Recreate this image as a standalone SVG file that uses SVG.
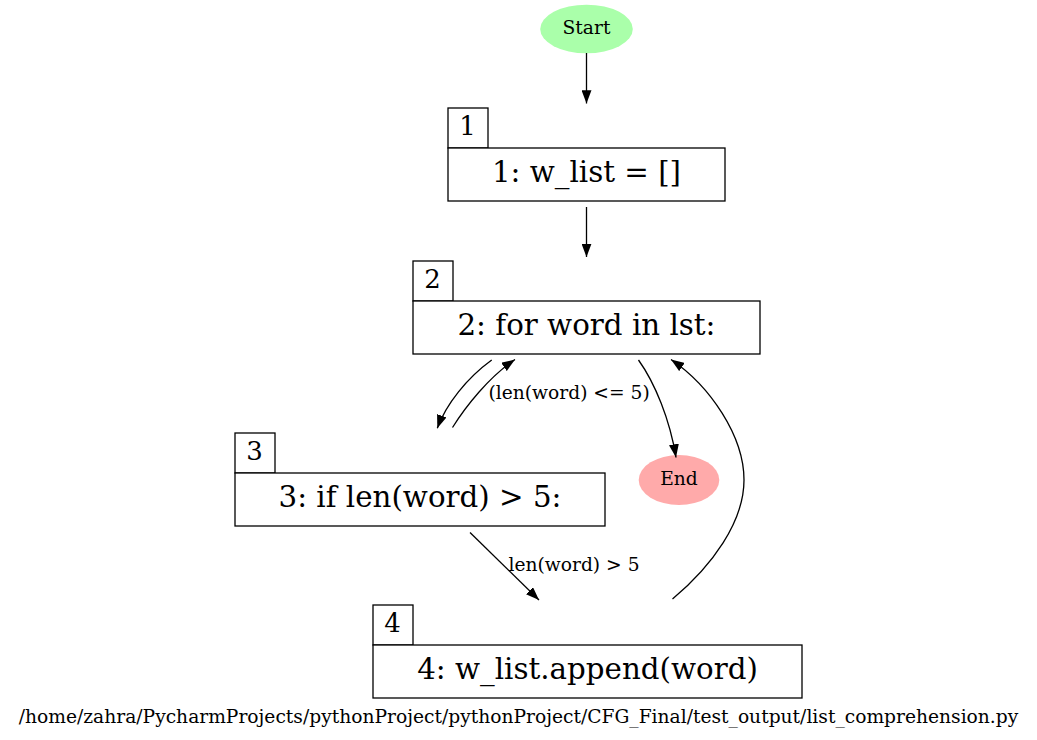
<svg xmlns="http://www.w3.org/2000/svg" width="1037" height="740" viewBox="0 0 1037 740">
<defs>
<marker id="arr" markerUnits="userSpaceOnUse" markerWidth="14" markerHeight="10" refX="13.3" refY="5" orient="auto">
<path d="M0,0 L13.3,5 L0,10 z" fill="#000"/>
</marker>
<style>
.box{fill:#fff;stroke:#000;stroke-width:1.3}
.main{font-family:"DejaVu Serif",serif;font-size:29.3px;text-anchor:middle;fill:#000}
.tab{font-family:"DejaVu Serif",serif;font-size:26px;text-anchor:middle;fill:#000}
.small{font-family:"DejaVu Serif",serif;font-size:18.67px;fill:#000}
.edge{fill:none;stroke:#000;stroke-width:1.3;marker-end:url(#arr)}
</style>
</defs>
<rect width="1037" height="740" fill="#fff"/>
<g id="start">
<ellipse cx="586.5" cy="29" rx="46.3" ry="24.3" fill="#aaffaa"/>
<text class="small" x="586.5" y="34" text-anchor="middle">Start</text>
</g>
<g id="node1">
<rect class="box" x="448" y="108" width="40" height="40"/>
<text class="tab" x="467.5" y="135">1</text>
<rect class="box" x="448" y="148" width="277" height="53"/>
<text class="main" x="586.5" y="182">1: w_list = []</text>
</g>
<g id="node2">
<rect class="box" x="413" y="261" width="40" height="40"/>
<text class="tab" x="432.5" y="288">2</text>
<rect class="box" x="413" y="301" width="347" height="53"/>
<text class="main" x="586.5" y="335">2: for word in lst:</text>
</g>
<g id="node3">
<rect class="box" x="235" y="433" width="40" height="40"/>
<text class="tab" x="254.5" y="460">3</text>
<rect class="box" x="235" y="473" width="370" height="53"/>
<text class="main" x="420" y="507">3: if len(word) &gt; 5:</text>
</g>
<g id="end">
<ellipse cx="679" cy="480" rx="40.3" ry="25" fill="#ffaaaa"/>
<text class="small" x="679" y="485" text-anchor="middle">End</text>
</g>
<g id="node4">
<rect class="box" x="373" y="605" width="40" height="40"/>
<text class="tab" x="392.5" y="632">4</text>
<rect class="box" x="373" y="645" width="429" height="53"/>
<text class="main" x="587.5" y="679">4: w_list.append(word)</text>
</g>
<g id="connectors">
<path class="edge" d="M586.5,53 L586.5,103.5"/>
<path class="edge" d="M586.5,207 L586.5,257"/>
<path class="edge" d="M491.7,360 C467,378 446,404 437.3,428.3"/>
<path class="edge" d="M452.5,427.5 C466,406 489,377 515,359.5"/>
<text class="small" x="488.5" y="399">(len(word) &lt;= 5)</text>
<path class="edge" d="M638.5,360 C655,383 670,420 676,457.5"/>
<path class="edge" d="M470,532.5 L539,600"/>
<text class="small" x="508.5" y="571">len(word) &gt; 5</text>
<path class="edge" d="M672.5,599 C712,566 744,522 744,480 C744,436 710,386 671,359.5"/>
</g>
<text class="small" x="518.5" y="723" text-anchor="middle">/home/zahra/PycharmProjects/pythonProject/pythonProject/CFG_Final/test_output/list_comprehension.py</text>
</svg>
